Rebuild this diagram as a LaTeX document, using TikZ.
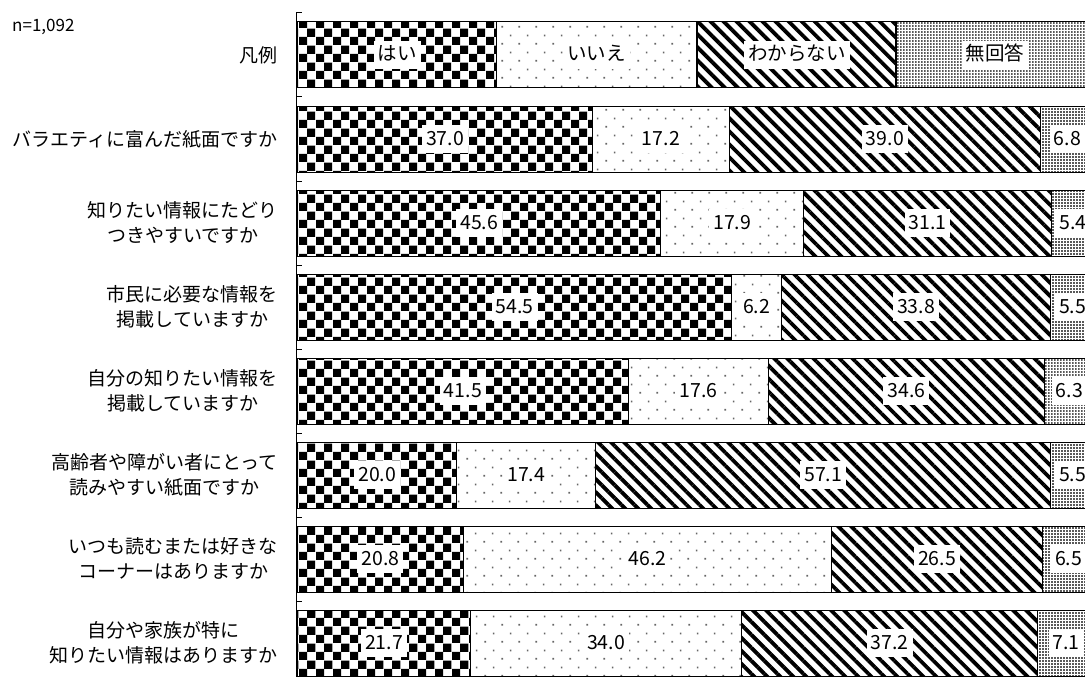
\documentclass[tikz,border=0pt]{standalone}
\usepackage{fontspec}
\setmainfont{Noto Sans CJK JP}
\usepackage{tikz}
\usetikzlibrary{patterns,patterns.meta}
\usetikzlibrary{positioning}

\tikzdeclarepattern{
  name=checker,
  type=uncolored,
  bottom left={(0pt,0pt)},
  top right={(16.6pt,16.6pt)},
  tile size={(16.6pt,16.6pt)},
  code={
    \fill (0pt,0pt) rectangle (8.3pt,8.3pt);
    \fill (8.3pt,8.3pt) rectangle (16.6pt,16.6pt);
  }
}
\tikzdeclarepattern{
  name=sparsedots,
  type=uncolored,
  bottom left={(0pt,0pt)},
  top right={(17.3pt,16.6pt)},
  tile size={(17.3pt,16.6pt)},
  code={
    \fill (0.5pt,0.5pt) rectangle (2.1pt,2.1pt);
    \fill (9.15pt,8.8pt) rectangle (10.75pt,10.4pt);
  }
}
\tikzdeclarepattern{
  name=finedots,
  type=uncolored,
  bottom left={(0pt,0pt)},
  top right={(3.3pt,3.3pt)},
  tile size={(3.3pt,3.3pt)},
  code={
    \fill (0pt,0pt) rectangle (2.1pt,2.1pt);
  }
}

\begin{document}
\begin{tikzpicture}[x=1pt,y=-1pt,
                bar/.style={draw,line width=1pt,rectangle,inner sep=0pt,
                    minimum height=66pt},
                seg1/.style={bar,pattern=checker},
                seg2/.style={bar,pattern=sparsedots,pattern color=black!60},
                seg3/.style={bar,pattern={Lines[angle=-45,distance=9.2pt,line width=3.8pt]}},
                seg4/.style={bar,pattern=finedots,pattern color=black!65},
                val/.style={fill=white,inner xsep=4pt,inner ysep=5pt,
                    text height=15pt,text depth=3pt,
                    font=\fontsize{19.5}{21}\selectfont},
                cat/.style={anchor=east,align=center,inner sep=0pt,
                    font=\fontsize{19}{25}\selectfont}]
                \useasboundingbox (0,0) rectangle (1085,677);
                % axis
                \coordinate (axtop) at (296,13);
                \coordinate (axbot) at (296,677);
                \draw[line width=1pt] (axtop) -- (axbot);
                \foreach \k in {0,...,7}
                    \draw[line width=1pt] (296,{13+84*\k}) -- ++(6,0);
                % legend
                \node[anchor=west,inner sep=0pt,font=\fontsize{17}{19}\selectfont] (nn) at (12,27) {n=1,092};
                \node[cat] (c0) at (278,55) {凡例};
                \foreach \t [count=\s] in {はい,いいえ,わからない,無回答}
                {
                    \node[seg\s,minimum width=199.25pt,anchor=west](l\s) at ({297+199.25*(\s-1)},55) {};
                    \node[val](lt\s) at (l\s.center) {\t};
                }
                % questions
                \foreach \t [count=\r] in {{バラエティに富んだ紙面ですか},
                    {知りたい情報にたどり\\つきやすいですか},
                    {市民に必要な情報を\\掲載していますか},
                    {自分の知りたい情報を\\掲載していますか},
                    {高齢者や障がい者にとって\\読みやすい紙面ですか},
                    {いつも読むまたは好きな\\コーナーはありますか},
                    {自分や家族が特に\\知りたい情報はありますか}}
                    \node[cat](c\r) at (278,{55+84*\r}) {\t};
                % bars
                \foreach \q [count=\r] in {{37.0,17.2,39.0,6.8},
                    {45.6,17.9,31.1,5.4},
                    {54.5,6.2,33.8,5.5},
                    {41.5,17.6,34.6,6.3},
                    {20.0,17.4,57.1,5.5},
                    {20.8,46.2,26.5,6.5},
                    {21.7,34.0,37.2,7.1}}
                {
                    \pgfmathsetmacro\ymid{55+84*\r}
                    \xdef\xpos{297}
                    \foreach \v [count=\s] in \q
                    {
                        \pgfmathsetmacro\w{7.97*\v}
                        \node[seg\s,minimum width=\w pt,anchor=west](r\r s\s) at (\xpos,\ymid) {};
                        \node[val](v\r s\s) at (r\r s\s.center) {\v};
                        \pgfmathsetmacro\nx{\xpos+\w}
                        \xdef\xpos{\nx}
                    }
                }
            \end{tikzpicture}
\end{document}
